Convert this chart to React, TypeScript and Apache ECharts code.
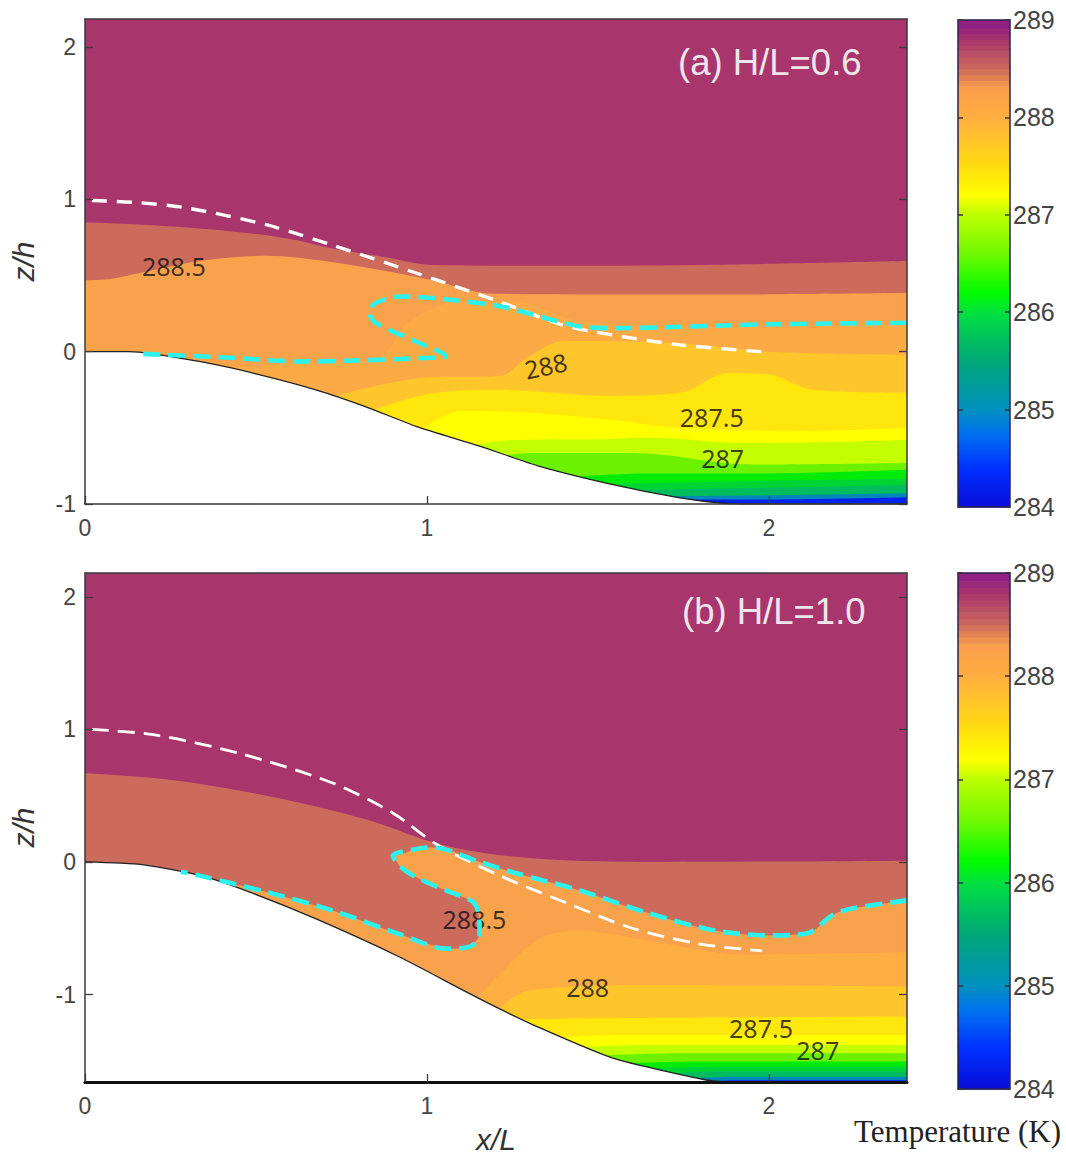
import React, { useEffect, useRef } from "react";
import * as echarts from "echarts";

type P = [number, number];

// ---------- shared values ----------
const X_MAX = 2.404;
const xTicks = [0, 1, 2];
const zTicksA = [-1, 0, 1, 2];
const zTicksB = [-1, 0, 1, 2];
const colorbarMin = 284;
const colorbarMax = 289;

// colours of the contour bands, warmest first
const PURPLE = "#A8366C";
const ROSE = "#CC6A5C";
const ORANGE = "#F9A24C";
const LIGHT_ORANGE_A = "#FCAA46";
const LIGHT_ORANGE_B = "#FDAE42";
const AMBER = "#FFC62B";
const GOLD = "#FFE60C";
const YELLOW = "#FFFF00";
const LIME = "#C4FF00";
const YGREEN = "#6CF200";
const GREEN = "#00EC08";
const DEEP_GREEN = "#00D434";
const TEAL = "#00BC5C";
const CYANBLUE = "#0088B8";
const BLUE = "#0022F0";

// ---------- panel (a) H/L=0.6 ----------
const aRoseTop: P[] = [[0, 0.85], [0.2, 0.83], [0.43, 0.79], [0.6, 0.74], [0.72, 0.68], [0.88, 0.62], [1.015, 0.57], [1.3, 0.565], [1.8, 0.57], [2.404, 0.595]];
const aOrangeTop: P[] = [[0, 0.47], [0.08, 0.48], [0.167, 0.52], [0.35, 0.6], [0.53, 0.63], [0.72, 0.59], [0.88, 0.53], [1.015, 0.47], [1.2, 0.38], [1.8, 0.375], [2.404, 0.385]];
const aLightTop: P[] = [[0.28, -0.12], [0.6, -0.08], [0.85, -0.05], [0.95, 0.2], [1.1, 0.33], [1.25, 0.33], [1.45, 0.2], [1.8, 0.16], [2.404, 0.18]];
const aAmberTop: P[] = [[0.72, -0.3], [1.0, -0.17], [1.21, -0.16], [1.3, -0.03], [1.4, 0.07], [1.7, 0.06], [2.0, 0.0], [2.404, -0.02]];
const aGoldTop: P[] = [[0.8, -0.42], [1.0, -0.28], [1.21, -0.25], [1.54, -0.29], [1.74, -0.27], [1.885, -0.14], [2.0, -0.15], [2.13, -0.25], [2.404, -0.27]];
const aYellowTop: P[] = [[0.98, -0.52], [1.1, -0.39], [1.3, -0.4], [1.54, -0.447], [1.74, -0.5], [2.13, -0.52], [2.404, -0.5]];
const aLimeTop: P[] = [[1.12, -0.62], [1.25, -0.58], [1.5, -0.575], [1.64, -0.565], [1.95, -0.6], [2.404, -0.58]];
const aYgreenTop: P[] = [[1.18, -0.7], [1.3, -0.665], [1.6, -0.665], [1.95, -0.74], [2.404, -0.73]];
const aGreenTop: P[] = [[1.38, -0.83], [1.64, -0.8], [1.95, -0.8], [2.404, -0.775]];
const aDeepGreenTop: P[] = [[1.45, -0.87], [1.95, -0.85], [2.404, -0.835]];
const aTealTop: P[] = [[1.52, -0.91], [1.95, -0.895], [2.404, -0.875]];
const aCyanblueTop: P[] = [[1.64, -0.95], [1.95, -0.945], [2.404, -0.93]];
const aBlueTop: P[] = [[1.7, -0.97], [1.95, -0.97], [2.404, -0.955]];
const aTerrain: P[] = [[0, 0], [0.13, 0], [0.334, -0.064], [0.5, -0.145], [0.675, -0.25], [0.82, -0.36], [0.968, -0.49], [1.154, -0.62], [1.33, -0.753], [1.544, -0.873], [1.74, -0.96], [1.865, -0.995], [1.95, -1], [2.404, -1]];
const aWhiteDash: P[] = [[0.02, 0.993], [0.15, 0.98], [0.295, 0.945], [0.53, 0.834], [0.723, 0.7], [0.968, 0.517], [1.21, 0.33], [1.395, 0.177], [1.544, 0.11], [1.74, 0.045], [1.98, 0]];
const aCyanDash: P[] = [[2.404, 0.19], [2.0, 0.18], [1.544, 0.155], [1.45, 0.165], [1.348, 0.22], [1.21, 0.3], [1.016, 0.353], [0.92, 0.363], [0.85, 0.32], [0.83, 0.265], [0.85, 0.19], [0.968, 0.067], [1.056, -0.03], [1.015, -0.04], [0.627, -0.064], [0.43, -0.04], [0.158, -0.013]];
const aLabels: [number, number, string, number][] = [
  [0.26, 0.56, "288.5", 0],
  [1.347, -0.09, "288", 12],
  [1.833, -0.43, "287.5", 0],
  [1.865, -0.7, "287", 0],
];

// ---------- panel (b) H/L=1.0 ----------
const bRoseTop: P[] = [[0, 0.67], [0.236, 0.624], [0.53, 0.5], [0.82, 0.323], [1.016, 0.15], [1.154, 0.073], [1.348, 0.02], [1.64, 0], [2.404, 0.01]];
const bOrangeTop: P[] = [[0.25, -0.2], [0.3, 0.03], [0.88, 0.05], [0.9, 0.047], [0.97, 0.098], [1.016, 0.11], [1.154, 0], [1.25, -0.077], [1.447, -0.215], [1.64, -0.38], [1.837, -0.515], [2.0, -0.554], [2.11, -0.54], [2.187, -0.4], [2.246, -0.35], [2.404, -0.29]];
const bRoseTongue: P[] = [[0.2, 0.1], [0.5, 0.1], [0.86, 0.06], [0.9, 0.047], [0.92, -0.03], [0.968, -0.115], [1.056, -0.215], [1.134, -0.3], [1.15, -0.38], [1.154, -0.554], [1.124, -0.64], [1.056, -0.654], [0.93, -0.554], [0.723, -0.366], [0.53, -0.226], [0.334, -0.103], [0.28, -0.073], [0.2, -0.05]];
const bLightTop: P[] = [[1.12, -1.1], [1.21, -0.855], [1.33, -0.58], [1.447, -0.517], [1.64, -0.59], [1.935, -0.7], [2.404, -0.68]];
const bAmberTop: P[] = [[1.17, -1.2], [1.3, -0.97], [1.64, -0.93], [2.404, -0.94]];
const bGoldTop: P[] = [[1.24, -1.19], [1.45, -1.18], [2.404, -1.166]];
const bYellowTop: P[] = [[1.36, -1.33], [1.55, -1.305], [2.404, -1.305]];
const bLimeTop: P[] = [[1.43, -1.4], [1.64, -1.38], [2.404, -1.38]];
const bYgreenTop: P[] = [[1.49, -1.46], [1.75, -1.443], [2.404, -1.443]];
const bGreenTop: P[] = [[1.57, -1.52], [1.8, -1.505], [2.404, -1.505]];
const bDeepGreenTop: P[] = [[1.63, -1.56], [1.84, -1.545], [2.404, -1.545]];
const bTealTop: P[] = [[1.69, -1.595], [1.86, -1.58], [2.404, -1.58]];
const bCyanblueTop: P[] = [[1.76, -1.635], [1.9, -1.62], [2.404, -1.62]];
const bBlueTop: P[] = [[1.82, -1.66], [1.9, -1.647], [2.404, -1.647]];
const bTerrain: P[] = [[0, 0], [0.167, -0.02], [0.334, -0.1], [0.48, -0.226], [0.676, -0.43], [0.92, -0.717], [1.115, -0.98], [1.21, -1.105], [1.32, -1.24], [1.544, -1.48], [1.817, -1.645], [1.9, -1.66], [2.404, -1.66]];
const bWhiteDash: P[] = [[0.02, 1.0], [0.2, 0.96], [0.45, 0.82], [0.72, 0.6], [0.9, 0.37], [1.03, 0.13], [1.21, -0.1], [1.4, -0.3], [1.6, -0.5], [1.8, -0.62], [1.98, -0.67]];
const bCyanDash: P[] = [[2.404, -0.29], [2.246, -0.35], [2.187, -0.4], [2.11, -0.54], [2.0, -0.554], [1.837, -0.515], [1.64, -0.38], [1.447, -0.215], [1.25, -0.077], [1.154, 0], [1.016, 0.11], [0.97, 0.098], [0.9, 0.047], [0.92, -0.03], [0.968, -0.115], [1.056, -0.215], [1.134, -0.3], [1.15, -0.38], [1.154, -0.554], [1.124, -0.64], [1.056, -0.654], [0.93, -0.554], [0.723, -0.366], [0.53, -0.226], [0.334, -0.103], [0.28, -0.073]];
const bLabels: [number, number, string, number][] = [
  [1.139, -0.43, "288.5", 0],
  [1.47, -0.947, "288", 0],
  [1.977, -1.256, "287.5", 0],
  [2.143, -1.42, "287", 0],
];

// ---------- colour bar ----------
const colorStops: [number, string][] = [
  [284, "#0A0CD8"], [284.4, "#0030FF"], [284.75, "#0070F0"], [285, "#0090C0"], [285.5, "#00A878"],
  [286, "#00E040"], [286.2, "#00FC00"], [286.6, "#70F800"], [287, "#BCFF00"], [287.2, "#FFFF00"],
  [287.5, "#FFDC10"], [288, "#FFAE40"], [288.3, "#FA9F4C"], [288.5, "#CC6A5C"], [288.8, "#A8366C"], [289, "#8A1A88"],
];
// one smooth cell up to 288.26, then the visibly stepped cells near the top
const colorbarLevels = [284, 288.26, 288.32, 288.38, 288.44, 288.5, 288.56, 288.62, 288.68, 288.74, 288.8, 288.86, 288.92];

function stopColor(v: number): string {
  for (let i = 0; i < colorStops.length - 1; i++) {
    const [a, ca] = colorStops[i];
    const [b, cb] = colorStops[i + 1];
    if (v >= a && v <= b) return echarts.color.lerp((v - a) / (b - a), [ca, cb]) as string;
  }
  return colorStops[colorStops.length - 1][1];
}

const TICK_COLOR = "#444";
const AXIS_COLOR = "#3a3a3a";
const LABEL_FONT = "Liberation Sans";

function band(name: string, data: P[], color: string, xi: number, yi: number, z: number) {
  return {
    name, type: "line", xAxisIndex: xi, yAxisIndex: yi, data, z,
    smooth: 0.35, showSymbol: false, silent: true,
    lineStyle: { width: 0 },
    areaStyle: { color, opacity: 1, origin: "start" },
  };
}

function dashLine(name: string, data: P[], color: string, width: number, dash: number[], xi: number, yi: number, z: number) {
  return {
    name, type: "line", xAxisIndex: xi, yAxisIndex: yi, data, z,
    smooth: 0.3, showSymbol: false, silent: true,
    lineStyle: { color, width, type: dash },
  };
}

function terrain(name: string, data: P[], xi: number, yi: number, z: number) {
  return {
    name, type: "line", xAxisIndex: xi, yAxisIndex: yi, data, z,
    smooth: 0.2, showSymbol: false, silent: true,
    lineStyle: { color: "#222", width: 1.3 },
    areaStyle: { color: "#ffffff", opacity: 1, origin: "start" },
  };
}

function contourLabels(name: string, list: [number, number, string, number][], xi: number, yi: number, z: number) {
  return {
    name, type: "scatter", xAxisIndex: xi, yAxisIndex: yi, z, silent: true, symbolSize: 1,
    itemStyle: { color: "rgba(0,0,0,0)" },
    data: list.map((l) => ({
      value: [l[0], l[1]],
      label: {
        show: true, position: "inside", formatter: l[2], rotate: l[3],
        fontFamily: "Noto Sans", fontSize: 25, color: "#111",
      },
    })),
  };
}

function polygonSeries(name: string, data: P[], color: string, xi: number, yi: number, z: number) {
  return {
    name, type: "custom", xAxisIndex: xi, yAxisIndex: yi, z, silent: true, data,
    renderItem: (params: any, api: any) => {
      if (params.dataIndex !== 0) return null;
      return {
        type: "polygon",
        shape: { points: data.map((p) => api.coord(p)), smooth: 0.2 },
        style: { fill: color },
      };
    },
  };
}

function colorbarSeries(name: string, xi: number, yi: number) {
  const top = (i: number) => (i + 1 < colorbarLevels.length ? colorbarLevels[i + 1] : colorbarMax);
  return {
    name, type: "custom", xAxisIndex: xi, yAxisIndex: yi, z: 2, silent: true,
    data: colorbarLevels.map((v, i) => [v, top(i)]),
    encode: { y: [0, 1] },
    renderItem: (params: any, api: any) => {
      const v0 = api.value(0);
      const v1 = api.value(1);
      const lo = api.coord([0, v0]);
      const hi = api.coord([1, v1]);
      let fill: any = stopColor((v0 + v1) / 2);
      if (params.dataIndex === 0) {
        const stops = colorStops
          .filter((s) => s[0] <= v1)
          .map((s) => ({ offset: (s[0] - v0) / (v1 - v0), color: s[1] }));
        stops.push({ offset: 1, color: stopColor(v1) });
        fill = new echarts.graphic.LinearGradient(0, 1, 0, 0, stops);
      }
      return {
        type: "rect",
        shape: { x: lo[0], y: hi[1], width: hi[0] - lo[0], height: lo[1] - hi[1] + 0.6 },
        style: { fill },
      };
    },
  };
}

function plotX(gridIndex: number, name: string, lineWidth: number) {
  return [
    {
      type: "value", gridIndex, min: 0, max: X_MAX, z: 10, position: "bottom",
      name, nameLocation: "middle", nameGap: 42,
      nameTextStyle: { fontFamily: LABEL_FONT, fontStyle: "italic", fontSize: 30, color: "#333" },
      axisLine: { show: true, onZero: false, lineStyle: { color: lineWidth > 2 ? "#111" : AXIS_COLOR, width: lineWidth } },
      axisTick: { show: true, inside: true, length: 8, customValues: xTicks, lineStyle: { color: AXIS_COLOR, width: 1.3 } },
      axisLabel: { show: true, margin: 12, customValues: xTicks, fontFamily: LABEL_FONT, fontSize: 23, color: TICK_COLOR },
      splitLine: { show: false },
    },
    {
      type: "value", gridIndex, min: 0, max: X_MAX, z: 10, position: "top",
      axisLine: { show: true, onZero: false, lineStyle: { color: AXIS_COLOR, width: 1.5 } },
      axisTick: { show: false }, axisLabel: { show: false }, splitLine: { show: false },
    },
  ];
}

function plotY(gridIndex: number, min: number, max: number, ticks: number[]) {
  return [
    {
      type: "value", gridIndex, min, max, z: 10, position: "left",
      name: "z/h", nameLocation: "middle", nameRotate: 90, nameGap: 47,
      nameTextStyle: { fontFamily: LABEL_FONT, fontStyle: "italic", fontSize: 30, color: "#333" },
      axisLine: { show: true, onZero: false, lineStyle: { color: AXIS_COLOR, width: 1.5 } },
      axisTick: { show: true, inside: true, length: 8, customValues: ticks, lineStyle: { color: AXIS_COLOR, width: 1.3 } },
      axisLabel: { show: true, margin: 9, customValues: ticks, fontFamily: LABEL_FONT, fontSize: 23, color: TICK_COLOR },
      splitLine: { show: false },
    },
    {
      type: "value", gridIndex, min, max, z: 10, position: "right",
      axisLine: { show: true, onZero: false, lineStyle: { color: AXIS_COLOR, width: 1.5 } },
      axisTick: { show: true, inside: true, length: 8, customValues: ticks, lineStyle: { color: AXIS_COLOR, width: 1.3 } },
      axisLabel: { show: false }, splitLine: { show: false },
    },
  ];
}

function barX(gridIndex: number) {
  const common = {
    type: "value", gridIndex, min: 0, max: 1, z: 10,
    axisLine: { show: true, onZero: false, lineStyle: { color: "#2a2050", width: 1.5 } },
    axisTick: { show: false }, axisLabel: { show: false }, splitLine: { show: false },
  };
  return [{ ...common, position: "bottom" }, { ...common, position: "top" }];
}

function barY(gridIndex: number) {
  const line = { show: true, onZero: false, lineStyle: { color: "#2a2050", width: 1.5 } };
  return [
    {
      type: "value", gridIndex, min: colorbarMin, max: colorbarMax, interval: 1, z: 10, position: "left",
      axisLine: line,
      axisTick: { show: true, inside: true, length: 5, lineStyle: { color: "#333", width: 1.5 } },
      axisLabel: { show: false }, splitLine: { show: false },
    },
    {
      type: "value", gridIndex, min: colorbarMin, max: colorbarMax, interval: 1, z: 10, position: "right",
      axisLine: line,
      axisTick: { show: true, inside: true, length: 5, lineStyle: { color: "#333", width: 1.5 } },
      axisLabel: { show: true, margin: 3, fontFamily: LABEL_FONT, fontSize: 25, color: TICK_COLOR },
      splitLine: { show: false },
    },
  ];
}

export default function App() {
  const ref = useRef<HTMLDivElement>(null);
  useEffect(() => {
    if (!ref.current) return;
    const chart = echarts.init(ref.current, null, { renderer: "svg" });
    const aBands: [string, P[], string][] = [
      ["a rose", aRoseTop, ROSE], ["a orange", aOrangeTop, ORANGE], ["a light", aLightTop, LIGHT_ORANGE_A],
      ["a amber", aAmberTop, AMBER], ["a gold", aGoldTop, GOLD], ["a yellow", aYellowTop, YELLOW],
      ["a lime", aLimeTop, LIME], ["a ygreen", aYgreenTop, YGREEN], ["a green", aGreenTop, GREEN],
      ["a deep green", aDeepGreenTop, DEEP_GREEN], ["a teal", aTealTop, TEAL], ["a cyanblue", aCyanblueTop, CYANBLUE], ["a blue", aBlueTop, BLUE],
    ];
    const bBandsUpper: [string, P[], string][] = [["b rose", bRoseTop, ROSE], ["b orange", bOrangeTop, ORANGE]];
    const bBandsLower: [string, P[], string][] = [
      ["b light", bLightTop, LIGHT_ORANGE_B], ["b amber", bAmberTop, AMBER], ["b gold", bGoldTop, GOLD],
      ["b yellow", bYellowTop, YELLOW], ["b lime", bLimeTop, LIME], ["b ygreen", bYgreenTop, YGREEN],
      ["b green", bGreenTop, GREEN], ["b deep green", bDeepGreenTop, DEEP_GREEN], ["b teal", bTealTop, TEAL], ["b cyanblue", bCyanblueTop, CYANBLUE], ["b blue", bBlueTop, BLUE],
    ];
    const Z_TERRAIN = 3, Z_LABEL = 4, Z_DASH = 5;
    const series: any[] = [
      ...aBands.map((b) => band(b[0], b[1], b[2], 0, 0, 2)),
      terrain("a terrain", aTerrain, 0, 0, Z_TERRAIN),
      contourLabels("a labels", aLabels, 0, 0, Z_LABEL),
      dashLine("a white", aWhiteDash, "#ffffff", 3.4, [15, 10], 0, 0, Z_DASH),
      dashLine("a cyan", aCyanDash, "#2CF2EE", 4.6, [17, 8], 0, 0, Z_DASH + 1),
      ...bBandsUpper.map((b) => band(b[0], b[1], b[2], 2, 2, 2)),
      polygonSeries("b tongue", bRoseTongue, ROSE, 2, 2, 2),
      ...bBandsLower.map((b) => band(b[0], b[1], b[2], 2, 2, 2)),
      terrain("b terrain", bTerrain, 2, 2, Z_TERRAIN),
      contourLabels("b labels", bLabels, 2, 2, Z_LABEL),
      dashLine("b white", bWhiteDash, "#ffffff", 2.8, [17, 9], 2, 2, Z_DASH),
      dashLine("b cyan", bCyanDash, "#2CF2EE", 4.6, [17, 8], 2, 2, Z_DASH + 1),
      colorbarSeries("bar a", 4, 4),
      colorbarSeries("bar b", 6, 6),
    ];
    chart.setOption({
      animation: false,
      backgroundColor: "#ffffff",
      grid: [
        { left: 85, top: 19, width: 822, height: 485, show: true, backgroundColor: PURPLE, borderWidth: 0 },
        { left: 85, top: 573, width: 822, height: 511, show: true, backgroundColor: PURPLE, borderWidth: 0 },
        { left: 958, top: 20, width: 52, height: 487 },
        { left: 958, top: 573, width: 52, height: 516 },
      ],
      xAxis: [...plotX(0, "", 1.5), ...plotX(1, "x/L", 3), ...barX(2), ...barX(3)],
      yAxis: [...plotY(0, -1, 2.185, zTicksA), ...plotY(1, -1.66, 2.18, zTicksB), ...barY(2), ...barY(3)],
      series,
      graphic: [
        { type: "text", x: 678, y: 44, z: 100, style: { text: "(a) H/L=0.6", font: "36.5px 'Liberation Sans'", fill: "#EFE6EC" } },
        { type: "text", x: 682, y: 593, z: 100, style: { text: "(b) H/L=1.0", font: "36.5px 'Liberation Sans'", fill: "#EFE6EC" } },
        { type: "text", x: 854, y: 1116, z: 100, style: { text: "Temperature (K)", font: "31px 'Liberation Serif'", fill: "#222" } },
      ],
    });
    return () => chart.dispose();
  }, []);
  return <div ref={ref} style={{ position: "absolute", left: 0, top: 0, width: 1066, height: 1155 }} />;
}
